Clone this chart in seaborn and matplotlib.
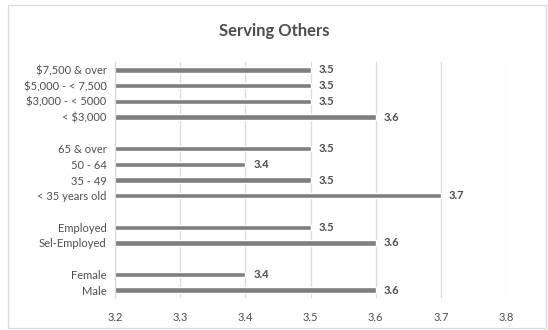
import numpy as np
import pandas as pd
import matplotlib
matplotlib.use("Agg")
import matplotlib.pyplot as plt
import seaborn as sns
from matplotlib.patches import Rectangle

# Categories from top to bottom; blank entries separate the groups
categories = ["$7,500 & over", "$5,000 - < 7,500", "$3,000 - < 5000", "< $3,000", "",
              "65 & over", "50 - 64", "35 - 49", "< 35 years old", " ",
              "Employed", "Sel-Employed", "  ",
              "Female", "Male"]
scores = [3.5, 3.5, 3.5, 3.6, np.nan,
          3.5, 3.4, 3.5, 3.7, np.nan,
          3.5, 3.6, np.nan,
          3.4, 3.6]
x_ticks = [3.2, 3.3, 3.4, 3.5, 3.6, 3.7, 3.8]

df = pd.DataFrame({"group": categories, "score": scores})

sns.set_theme(style="white")
plt.rcParams["font.family"] = ["Lato", "DejaVu Sans"]

text_grey = "#4d4d4d"
bar_grey = "#7f7f7f"
grid_grey = "#d9d9d9"

fig = plt.figure(figsize=(5.48, 3.30), dpi=100)
ax = fig.add_axes([0.2099, 0.097, 0.7135, 0.715])

sns.barplot(data=df, y="group", x="score", order=categories, color=bar_grey,
            width=0.34, orient="h", ax=ax, saturation=1)

ax.set_xlim(3.2, 3.8)
ax.set_xticks(x_ticks)
ax.set_xticklabels([f"{t:.1f}" for t in x_ticks])
ax.set_xlabel("")
ax.set_ylabel("")
ax.grid(axis="x", color=grid_grey, linewidth=0.9)
ax.set_axisbelow(True)
for side in ["top", "right", "bottom"]:
    ax.spines[side].set_visible(False)
ax.spines["left"].set_color(grid_grey)
ax.spines["left"].set_linewidth(0.9)
ax.tick_params(axis="both", length=0, colors=text_grey, labelsize=8)
ax.tick_params(axis="x", pad=10)
ax.tick_params(axis="y", pad=6)

for i, v in enumerate(scores):
    if not np.isnan(v):
        ax.text(v + 0.012, i, f"{v:.1f}", va="center", ha="left",
                fontsize=8, fontweight="bold", color=text_grey)

fig.text(0.5, 0.905, "Serving Others", ha="center", va="center",
         fontsize=12, fontweight="bold", color=text_grey)

fig.add_artist(Rectangle((8 / 548, 2 / 330), 538 / 548, 323 / 330,
                         transform=fig.transFigure, fill=False,
                         edgecolor=grid_grey, linewidth=0.9))

fig.savefig("out.png", dpi=100)
